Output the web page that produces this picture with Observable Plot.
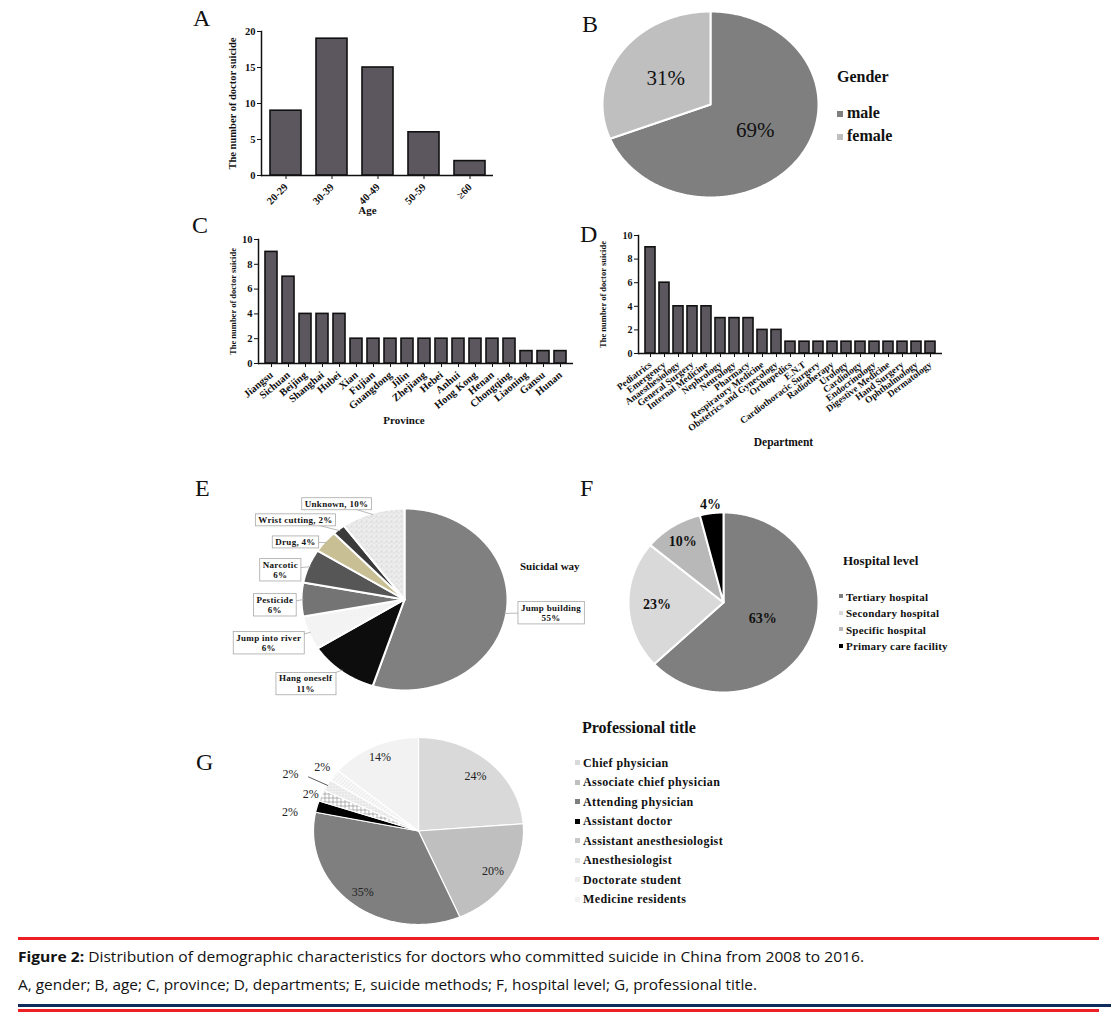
<!DOCTYPE html>
<html><head><meta charset="utf-8">
<script src="https://cdn.jsdelivr.net/npm/d3@7"></script>
<script src="https://cdn.jsdelivr.net/npm/@observablehq/plot@0.6"></script>
<style>
body{margin:0;background:#fff;}
#page{position:relative;width:1111px;height:1021px;overflow:hidden;background:#fff;}
.abs{position:absolute;white-space:nowrap;line-height:1;color:#111;}
.chart{position:absolute;}
</style></head><body>
<svg width="0" height="0" style="position:absolute">
<defs>
<pattern id="patUnknown" width="5" height="5" patternUnits="userSpaceOnUse">
<rect width="5" height="5" fill="#ededed"/>
<circle cx="1" cy="1" r="0.6" fill="#a5a5a5"/><circle cx="3.6" cy="2.6" r="0.5" fill="#bdbdbd"/><circle cx="1.8" cy="4.2" r="0.45" fill="#c8c8c8"/>
</pattern>
<pattern id="patRiver" width="4" height="4" patternUnits="userSpaceOnUse">
<rect width="4" height="4" fill="#f4f4f4"/><circle cx="1" cy="1" r="0.4" fill="#dedede"/>
</pattern>
<pattern id="patCheck" width="4" height="4" patternUnits="userSpaceOnUse">
<rect width="4" height="4" fill="#ffffff"/><path d="M0 0.5H4M0.5 0V4" stroke="#a0a0a0" stroke-width="0.8"/>
</pattern>
<pattern id="patDots" width="3" height="3" patternUnits="userSpaceOnUse">
<rect width="3" height="3" fill="#f0f0f0"/><circle cx="1.5" cy="1.5" r="0.6" fill="#c8c8c8"/>
</pattern>
<pattern id="patDiag" width="4" height="4" patternUnits="userSpaceOnUse">
<rect width="4" height="4" fill="#fafafa"/><path d="M0 4L4 0" stroke="#d5d5d5" stroke-width="0.7"/>
</pattern>
</defs></svg>
<div id="page"></div>
<script>
// ---------------- data ----------------
const ageGroups = ["20-29", "30-39", "40-49", "50-59", "≥60"];
const ageCounts = [9, 19, 15, 6, 2];
const ageTicks = [0, 5, 10, 15, 20];

const genderNames = ["male", "female"];
const genderPct = [69, 31];

const provinces = ["Jiangsu", "Sichuan", "Beijing", "Shanghai", "Hubei", "Xian", "Fujian", "Guangdong", "Jilin", "Zhejiang", "Hebei", "Anhui", "Hong Kong", "Henan", "Chongqing", "Liaoning", "Gansu", "Hunan"];
const provinceCounts = [9, 7, 4, 4, 4, 2, 2, 2, 2, 2, 2, 2, 2, 2, 2, 1, 1, 1];
const provinceTicks = [0, 2, 4, 6, 8, 10];

const departments = ["Pediatrics", "Emergency", "Anaesthesiology", "General Surgery", "Internal Medicine", "Nephrology", "Neurology", "Pharmacy", "Respiratory Medicine", "Obstetrics and Gynecology", "Orthopedics", "E.N.T", "Cardiothoracic Surgery", "Radiotherapy", "Urology", "Cardiology", "Endocrinology", "Digestive Medicine", "Hand Surgery", "Ophthalmology", "Dermatology"];
const departmentCounts = [9, 6, 4, 4, 4, 3, 3, 3, 2, 2, 1, 1, 1, 1, 1, 1, 1, 1, 1, 1, 1];
const departmentTicks = [0, 2, 4, 6, 8, 10];

const methods = ["Jump building", "Hang oneself", "Jump into river", "Pesticide", "Narcotic", "Drug", "Wrist cutting", "Unknown"];
const methodPct = [55, 11, 6, 6, 6, 4, 2, 10];

const hospitalLevels = ["Tertiary hospital", "Secondary hospital", "Specific hospital", "Primary care facility"];
const hospitalPct = [63, 23, 10, 4];

const titles = ["Chief physician", "Associate chief physician", "Attending physician", "Assistant doctor", "Assistant anesthesiologist", "Anesthesiologist", "Doctorate student", "Medicine residents"];
const titlePct = [24, 20, 35, 2, 2, 2, 2, 14];

// ---------------- styles / layout ----------------
const SERIF = '"Liberation Serif", "DejaVu Serif", serif';
const SANS = '"Open Sans", "Noto Sans", sans-serif';
const BAR = "#5c575e";
const genderFill = ["#7f7f7f", "#bfbfbf"];
const methodFill = ["#808080", "#0d0d0d", "url(#patRiver)", "#747474", "#565656", "#c8bf95", "#3a3a3a", "url(#patUnknown)"];
const methodLabelPolar = [[95.7, 1.43], [226.2, 1.33], [250.3, 1.40], [267.5, 1.26], [285.3, 1.25], [301, 1.235], [309.7, 1.376], [328, 1.245]];
const methodTwoLine = [true, true, true, true, true, false, false, false];
const hospitalFill = ["#7f7f7f", "#d9d9d9", "#b8b8b8", "#000000"];
const hospitalLabelR = [0.45, 0.7, 0.8, 1.1];
const titleFill = ["#d9d9d9", "#bfbfbf", "#7f7f7f", "#000000", "url(#patCheck)", "url(#patDots)", "url(#patDiag)", "#f2f2f2"];
const titleLegendSwatch = ["#d9d9d9", "#bfbfbf", "#7f7f7f", "#000000", "#c8c8c8", "#e4e4e4", "#ececec", "#f2f2f2"];
const titleLabelR = [0.8, 0.83, 0.84, 1.24, 1.10, 1.36, 1.14, 0.87];
const titleLabelShift = [0, 0, 0, -6, -1, -3, 0, 0];

const page = document.getElementById("page");
function place(node, left, top) {
  const wrap = document.createElement("div");
  wrap.className = "chart";
  wrap.style.left = left + "px"; wrap.style.top = top + "px";
  wrap.appendChild(node); page.appendChild(wrap); return node;
}
function label(text, x, base, size, opts = {}) {
  const d = document.createElement("div");
  d.className = "abs"; d.textContent = text;
  d.style.fontFamily = opts.family || SERIF;
  d.style.fontSize = size + "px";
  d.style.fontWeight = opts.weight || "normal";
  if (opts.ls) d.style.letterSpacing = opts.ls + "px";
  const k = opts.k || 0.8375;
  d.style.left = x + "px"; d.style.top = (base - k * size) + "px";
  page.appendChild(d); return d;
}
function box(x, y, w, h, color) {
  const d = document.createElement("div");
  d.style.position = "absolute"; d.style.left = x + "px"; d.style.top = y + "px";
  d.style.width = w + "px"; d.style.height = h + "px"; d.style.background = color;
  page.appendChild(d); return d;
}

// ---------------- bar charts ----------------
function barPlot(o) {
  const data = o.cats.map((c, i) => ({c, v: o.vals[i]}));
  return Plot.plot({
    width: o.width, height: o.height,
    marginLeft: o.mL, marginRight: o.mR, marginTop: o.mT, marginBottom: o.mB,
    style: {fontFamily: SERIF, fontWeight: "bold", fontSize: o.tickSize + "px", color: "#111", background: "transparent", overflow: "visible"},
    x: {domain: o.cats, paddingInner: o.padIn, paddingOuter: o.padOut, label: null},
    y: {domain: o.yDomain, label: null},
    marks: [
      Plot.barY(data, {x: "c", y: "v", fill: BAR, stroke: "#111", strokeWidth: 1.6}),
      Plot.ruleY([0], {stroke: "#111", strokeWidth: 1.5}),
      Plot.frame({anchor: "left", stroke: "#111", strokeWidth: 1.5}),
      Plot.axisY({ticks: o.yTicks, tickSize: 4, tickPadding: 2, label: null, fontSize: o.yTickSize || o.tickSize}),
      Plot.axisX({tickRotate: o.rotate, tickSize: 4, tickPadding: 6, label: null}),
      Plot.text([o.yLabel], {frameAnchor: "left", textAnchor: "middle", dx: o.yLabelDx, rotate: -90, fontSize: o.yLabelSize, fontWeight: "bold"}),
      Plot.text([o.xLabel], {frameAnchor: "bottom", textAnchor: "middle", dx: o.xLabelDx, dy: o.xLabelDy, fontSize: o.xLabelSize, fontWeight: "bold"})
    ]
  });
}

place(barPlot({cats: ageGroups, vals: ageCounts, width: 340, height: 225, mL: 81, mR: 27, mT: 31, mB: 50,
  padIn: 0.33, padOut: 0.165, yDomain: [0, 20], yTicks: ageTicks, rotate: -45, tickSize: 10.5,
  yLabel: "The number of doctor suicide", yLabelDx: -29, yLabelSize: 10.5,
  xLabel: "Age", xLabelDx: -10, xLabelDy: 38, xLabelSize: 11}), 180, 0);

place(barPlot({cats: provinces, vals: provinceCounts, width: 380, height: 215, mL: 58, mR: 7, mT: 14, mB: 77,
  padIn: 0.31, padOut: 0.2, yDomain: [0, 10], yTicks: provinceTicks, rotate: -40, tickSize: 10.5, yTickSize: 10.5,
  yLabel: "The number of doctor suicide", yLabelDx: -25, yLabelSize: 8.5,
  xLabel: "Province", xLabelDx: -12, xLabelDy: 60, xLabelSize: 11}), 200, 225);

place(barPlot({cats: departments, vals: departmentCounts, width: 370, height: 230, mL: 48, mR: 18, mT: 10, mB: 102,
  padIn: 0.28, padOut: 0.14, yDomain: [0, 10], yTicks: departmentTicks, rotate: -37, tickSize: 9.5, yTickSize: 10,
  yLabel: "The number of doctor suicide", yLabelDx: -35, yLabelSize: 8.5,
  xLabel: "Department", xLabelDx: -7, xLabelDy: 92, xLabelSize: 11.5}), 590, 225);

// ---------------- pies ----------------
function pieSlices(names, values) {
  const arcs = d3.pie().sort(null).value(d => d)(values);
  return arcs.map((a, i) => {
    const n = Math.max(3, Math.ceil((a.endAngle - a.startAngle) / 0.01));
    const pts = [{x: 0, y: 0}];
    for (let j = 0; j <= n; j++) {
      const t = a.startAngle + (a.endAngle - a.startAngle) * j / n;
      pts.push({x: Math.sin(t), y: Math.cos(t)});
    }
    pts.push({x: 0, y: 0});
    return {name: names[i], value: values[i], mid: (a.startAngle + a.endAngle) / 2, pts};
  });
}
const rad = deg => deg * Math.PI / 180;
const polar = (a, r) => ({x: r * Math.sin(a), y: r * Math.cos(a)});
function sliceMarks(slices, fills, sw = 1.5) {
  return slices.map((s, i) => Plot.line(s.pts, {x: "x", y: "y", fill: fills[i], stroke: "white", strokeWidth: sw, strokeLinejoin: "round"}));
}
function piePlot(o, marks) {
  return Plot.plot({
    width: o.width, height: o.height,
    marginLeft: o.mL, marginRight: o.mR, marginTop: o.mT, marginBottom: o.mB,
    x: {domain: [-1, 1], axis: null}, y: {domain: [-1, 1], axis: null},
    style: Object.assign({fontFamily: SERIF, color: "#111", background: "transparent", overflow: "visible"}, o.style || {}),
    marks
  });
}

// B: gender
const gSl = pieSlices(genderNames, genderPct);
place(piePlot({width: 220, height: 192, mL: 2, mR: 2, mT: 3, mB: 3}, [
  ...sliceMarks(gSl, genderFill, 2),
  Plot.text(gSl.map(s => ({...polar(s.mid, 0.5), t: s.value + "%"})), {x: "x", y: "y", text: "t", fontSize: 21, fill: "#111"})
]), 600, 8);

// E: suicidal way
const mSl = pieSlices(methods, methodPct);
const mLabels = mSl.map((s, i) => ({...polar(rad(methodLabelPolar[i][0]), methodLabelPolar[i][1]),
  t: methodTwoLine[i] ? `${s.name}\n${s.value}%` : `${s.name}, ${s.value}%`}));
const mLeaders = mSl.map((s, i) => {
  const p = polar(s.mid, 0.98), q = mLabels[i];
  return {x1: p.x, y1: p.y, x2: q.x, y2: q.y};
});
const svgE = place(piePlot({width: 380, height: 215, mL: 76, mR: 98, mT: 18, mB: 15, style: {letterSpacing: "0.3px"}}, [
  ...sliceMarks(mSl, methodFill, 2),
  Plot.link(mLeaders, {x1: "x1", y1: "y1", x2: "x2", y2: "y2", stroke: "#a8a8a8", strokeWidth: 0.8}),
  Plot.text(mLabels, {x: "x", y: "y", text: "t", fontSize: 9, fontWeight: "bold", lineHeight: 1.15, fill: "#111", ariaDescription: "ebox"})
]), 225, 490);
svgE.querySelectorAll('g[aria-description="ebox"] text').forEach(t => {
  const b = t.getBBox();
  const r = document.createElementNS("http://www.w3.org/2000/svg", "rect");
  r.setAttribute("x", b.x - 3); r.setAttribute("y", b.y - 1);
  r.setAttribute("width", b.width + 6); r.setAttribute("height", b.height + 2);
  r.setAttribute("fill", "white"); r.setAttribute("stroke", "#a8a8a8"); r.setAttribute("stroke-width", "0.8");
  if (t.getAttribute("transform")) r.setAttribute("transform", t.getAttribute("transform"));
  t.parentNode.insertBefore(r, t);
});

// F: hospital level
const hSl = pieSlices(hospitalLevels, hospitalPct);
place(piePlot({width: 210, height: 210, mL: 8, mR: 12, mT: 22, mB: 8}, [
  ...sliceMarks(hSl, hospitalFill, 2),
  Plot.text(hSl.map((s, i) => ({...polar(s.mid, hospitalLabelR[i]), t: s.value + "%"})), {x: "x", y: "y", text: "t", fontSize: 14, fontWeight: "bold", fill: "#111"})
]), 620, 490);

// G: professional title
const tSl = pieSlices(titles, titlePct);
const tLabels = tSl.map((s, i) => ({...polar(s.mid + rad(titleLabelShift[i]), titleLabelR[i]), t: s.value + "%"}));
const tLeader = [{...polar(tSl[5].mid, 0.99), x2: polar(tSl[5].mid - rad(0.5), 1.2).x, y2: polar(tSl[5].mid - rad(0.5), 1.2).y}];
place(piePlot({width: 273, height: 205, mL: 53, mR: 10, mT: 12, mB: 6}, [
  ...sliceMarks(tSl, titleFill, 1.2),
  Plot.link(tLeader, {x1: "x", y1: "y", x2: "x2", y2: "y2", stroke: "#333", strokeWidth: 0.8}),
  Plot.text(tLabels, {x: "x", y: "y", text: "t", fontSize: 12, fill: "#222"})
]), 260, 725);

// ---------------- panel letters, titles, legends ----------------
label("A", 193, 26, 24);
label("B", 582, 32, 24);
label("C", 192, 233, 24);
label("D", 580, 242, 24);
label("E", 195, 496, 24);
label("F", 580, 496, 24);
label("G", 196, 770, 24);

label("Gender", 837, 82, 16, {weight: "bold"});
genderNames.forEach((n, i) => {
  box(837, 111 + i * 23, 6, 6, genderFill[i]);
  label(n, 847, 118 + i * 23, 16, {weight: "bold"});
});

label("Suicidal way", 520, 570, 11, {weight: "bold"});

label("Hospital level", 843, 565, 13, {weight: "bold"});
hospitalLevels.forEach((n, i) => {
  const base = 601 + i * 16.5;
  box(839, base - 7, 4, 4, hospitalFill[i]);
  label(n, 846, base, 11, {weight: "bold", ls: 0.2});
});

label("Professional title", 582, 733, 16, {weight: "bold"});
titles.forEach((n, i) => {
  const base = 767 + i * 19.5;
  box(575, base - 7, 5, 5, titleLegendSwatch[i]);
  label(n, 583, base, 12, {weight: "bold", ls: 0.4});
});

// ---------------- caption ----------------
const RED = "#ec1f27", NAVY = "#0d2c5b";
box(18, 937, 1081, 3, RED);
const cap1 = label("", 18, 962, 15, {family: SANS, k: 0.888});
cap1.innerHTML = '<b>Figure 2:</b> Distribution of demographic characteristics for doctors who committed suicide in China from 2008 to 2016.';
const cap2 = label("A, gender; B, age; C, province; D, departments; E, suicide methods; F, hospital level; G, professional title.", 18, 990, 15, {family: SANS, k: 0.888});
[[cap1, 846], [cap2, 739]].forEach(([el, target]) => {
  const w = el.getBoundingClientRect().width;
  el.style.transformOrigin = "0 0";
  el.style.transform = `scaleX(${target / w})`;
});
box(18, 1004, 1093, 3, NAVY);
box(18, 1009, 1081, 3, RED);
</script>
</body></html>
